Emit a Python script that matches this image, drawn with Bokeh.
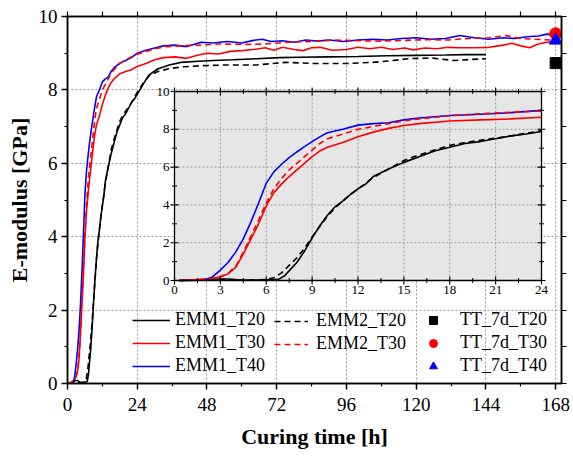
import numpy as np
from bokeh.plotting import figure
from bokeh.models import Range1d, LinearAxis, FixedTicker, Legend, LegendItem
from bokeh.core.properties import value
from bokeh.embed import file_html
from bokeh.resources import INLINE

# ---------------- data ----------------
t_emm1_t20 = [0.3, 1, 2, 2.5, 3, 3.5, 4, 4.5, 5, 5.5, 6, 6.5, 6.8, 7.2, 7.6, 8, 8.5, 9, 9.5, 10,
              10.5, 11, 11.5, 12, 12.5, 13, 13.5, 14, 15, 16, 17, 18, 19, 20, 21, 22, 23, 24,
              26, 28, 31, 35, 39, 45, 50, 57, 65, 73, 80, 90, 100, 110, 120, 130, 137, 144]
e_emm1_t20 = [0.0, 0.02, 0.05, 0.07, 0.08, 0.08, 0.05, 0.03, 0.02, 0.03, 0.04, 0.05, 0.06, 0.25,
              0.6, 0.95, 1.55, 2.25, 2.9, 3.45, 3.9, 4.2, 4.55, 4.85, 5.1, 5.5, 5.7, 5.9, 6.25,
              6.55, 6.85, 7.05, 7.25, 7.35, 7.5, 7.65, 7.75, 7.88, 8.15, 8.4, 8.57, 8.68, 8.75,
              8.78, 8.8, 8.82, 8.85, 8.88, 8.89, 8.9, 8.91, 8.93, 8.94, 8.95, 8.96, 8.96]

t_emm2_t20 = [0.3, 1, 2, 3, 4, 5, 6, 6.5, 7, 7.5, 8, 8.5, 9, 9.5, 10, 10.5, 11, 11.5, 12, 13, 14,
              15, 16, 17, 18, 19, 20, 22, 24, 26, 28, 31, 35, 40, 46, 55, 65, 75, 85, 96, 105,
              112, 117, 125, 133, 139, 144]
e_emm2_t20 = [0.0, 0.02, 0.04, 0.05, 0.03, 0.02, 0.05, 0.15, 0.4, 0.8, 1.2, 1.7, 2.3, 2.85, 3.4,
              3.85, 4.2, 4.55, 4.85, 5.45, 5.9, 6.35, 6.65, 6.9, 7.15, 7.3, 7.42, 7.65, 7.93,
              8.18, 8.38, 8.5, 8.58, 8.63, 8.66, 8.68, 8.68, 8.75, 8.72, 8.72, 8.75, 8.8, 8.85,
              8.87, 8.8, 8.83, 8.85]

t_emm1_t30 = [0.3, 1, 2, 2.5, 3, 3.5, 4, 4.5, 5, 5.5, 6, 6.5, 7, 7.5, 8, 8.5, 9, 9.5, 10, 11, 12,
              13, 14, 15, 16, 18, 20, 22, 24, 27, 30, 33, 37, 41, 45, 48, 52, 56, 60, 64, 68, 71,
              74, 78, 81, 84, 87, 91, 96, 100, 104, 108, 112, 116, 119, 123, 127, 131, 135, 140,
              145, 150, 153, 156, 159, 162, 165, 167]
e_emm1_t30 = [0.0, 0.02, 0.08, 0.12, 0.2, 0.35, 0.7, 1.4, 2.2, 3.0, 3.95, 4.65, 5.1, 5.5, 5.85,
              6.2, 6.55, 6.85, 7.05, 7.3, 7.6, 7.85, 8.05, 8.2, 8.3, 8.44, 8.5, 8.55, 8.64, 8.72,
              8.82, 8.88, 8.9, 8.86, 8.95, 9.0, 8.98, 9.05, 9.07, 9.1, 9.15, 9.08, 9.16, 9.1,
              9.07, 9.15, 9.16, 9.08, 9.1, 9.16, 9.12, 9.16, 9.1, 9.14, 9.09, 9.14, 9.12, 9.16,
              9.15, 9.15, 9.16, 9.22, 9.27, 9.2, 9.15, 9.25, 9.3, 9.32]

t_emm2_t30 = [0.3, 1, 2, 2.5, 3, 3.5, 4, 4.5, 5, 5.5, 6, 6.5, 7, 7.5, 8, 8.5, 9, 9.5, 10, 11, 12,
              13, 14, 15, 16, 18, 20, 22, 24, 27, 30, 34, 39, 45, 52, 60, 68, 76, 84, 92, 100,
              108, 116, 124, 131, 138, 145, 151, 156, 161, 166, 167]
e_emm2_t30 = [0.0, 0.02, 0.08, 0.12, 0.2, 0.38, 0.75, 1.5, 2.35, 3.2, 4.1, 4.85, 5.4, 5.85, 6.2,
              6.55, 6.9, 7.25, 7.5, 7.75, 8.0, 8.15, 8.3, 8.45, 8.55, 8.72, 8.82, 8.9, 8.97,
              9.05, 9.12, 9.18, 9.2, 9.22, 9.25, 9.24, 9.25, 9.3, 9.32, 9.36, 9.34, 9.33, 9.35,
              9.37, 9.36, 9.4, 9.42, 9.48, 9.4, 9.38, 9.36, 9.36]

t_emm1_t40 = [0.3, 1, 2, 2.5, 3, 3.5, 4, 4.5, 5, 5.5, 6, 6.5, 7, 7.5, 8, 8.5, 9, 9.5, 10, 11, 12,
              13, 14, 15, 16, 18, 20, 22, 24, 27, 30, 33, 37, 41, 46, 50, 55, 60, 64, 67, 70, 74,
              78, 82, 86, 90, 95, 100, 105, 110, 115, 120, 125, 130, 135, 140, 145, 150, 154, 158,
              162, 165, 167]
e_emm1_t40 = [0.0, 0.0, 0.03, 0.2, 0.55, 0.95, 1.5, 2.2, 3.1, 4.1, 5.15, 5.75, 6.15, 6.5, 6.8,
              7.08, 7.35, 7.6, 7.82, 8.0, 8.22, 8.3, 8.35, 8.5, 8.6, 8.73, 8.8, 8.88, 9.0, 9.08,
              9.14, 9.2, 9.22, 9.18, 9.3, 9.28, 9.32, 9.28, 9.35, 9.38, 9.32, 9.34, 9.3, 9.36,
              9.33, 9.36, 9.32, 9.36, 9.38, 9.36, 9.4, 9.42, 9.38, 9.4, 9.48, 9.42, 9.38, 9.42,
              9.4, 9.45, 9.47, 9.52, 9.5]

tt_time = [168, 168, 168]
tt_e = [8.73, 9.53, 9.35]
tt_labels = ["TT_7d_T20", "TT_7d_T30", "TT_7d_T40"]

main_x_ticks = [0, 24, 48, 72, 96, 120, 144, 168]
main_x_minor = [12, 36, 60, 84, 108, 132, 156]
main_y_ticks = [0, 2, 4, 6, 8, 10]
main_y_minor = [1, 3, 5, 7, 9]
inset_x_ticks = [0, 3, 6, 9, 12, 15, 18, 21, 24]
inset_x_minor = [1.5, 4.5, 7.5, 10.5, 13.5, 16.5, 19.5, 22.5]
inset_y_ticks = [0, 2, 4, 6, 8, 10]
inset_y_minor = [1, 3, 5, 7, 9]

# ---------------- layout constants (pixels) ----------------
W, H = 573, 457
FL, FR, FT, FB = 67, 561, 16, 383          # main frame
IL, IR, IT, IB = 174, 541, 91, 280         # inset frame
X_MAIN = (0, 170)
Y_MAIN = (0, 10)
X_IN = (0, 24)
Y_IN = (0, 10)

FONT = "Liberation Serif"
GRID = "#9a9a9a"

sx = (X_IN[1] - X_IN[0]) / (IR - IL)
sy = (Y_IN[1] - Y_IN[0]) / (IB - IT)
ix_range = Range1d(X_IN[0] - (IL - FL) * sx, X_IN[1] + (FR - IR) * sx)
iy_range = Range1d(Y_IN[0] - (FB - IB) * sy, Y_IN[1] + (IT - FT) * sy)

p = figure(width=W, height=H, x_range=Range1d(*X_MAIN), y_range=Range1d(*Y_MAIN),
           output_backend="svg", toolbar_location=None, title=None,
           min_border_left=FL, min_border_right=W - FR, min_border_top=FT,
           min_border_bottom=H - FB)
p.extra_x_ranges = {"ix": ix_range}
p.extra_y_ranges = {"iy": iy_range}
p.background_fill_color = "white"
p.border_fill_color = "white"
p.outline_line_color = "black"
p.outline_line_width = 1.5

xt = FixedTicker(ticks=main_x_ticks, minor_ticks=main_x_minor)
yt = FixedTicker(ticks=main_y_ticks, minor_ticks=main_y_minor)
# mirror axes: tick marks only (all as minor ticks, so no labels are drawn)
top_ax = LinearAxis(ticker=FixedTicker(ticks=[], minor_ticks=sorted(main_x_ticks + main_x_minor)))
right_ax = LinearAxis(ticker=FixedTicker(ticks=[], minor_ticks=sorted(main_y_ticks + main_y_minor)))
p.add_layout(top_ax, "above")
p.add_layout(right_ax, "right")

for ax in p.xaxis + p.yaxis:
    ax.axis_line_width = 1.5
    ax.axis_line_color = "black"
    ax.major_tick_line_width = 1.5
    ax.minor_tick_line_width = 1.2
    ax.major_tick_out = 6
    ax.major_tick_in = 0
    ax.minor_tick_out = 3
    ax.minor_tick_in = 0
    ax.major_label_text_font = FONT
    ax.major_label_text_font_size = "19px"
    ax.major_label_text_color = "black"
    ax.axis_label_text_font = FONT
    ax.axis_label_text_font_size = "22px"
    ax.axis_label_text_font_style = "bold"
    ax.axis_label_text_color = "black"

top_ax.minor_tick_out = 5
right_ax.minor_tick_out = 5
top_ax.major_label_standoff = 0
right_ax.major_label_standoff = 0

bottom_ax = p.below[0]
left_ax = p.left[0]
bottom_ax.ticker = xt
left_ax.ticker = yt
bottom_ax.axis_label = "Curing time [h]"
left_ax.axis_label = "E-modulus [GPa]"
bottom_ax.major_label_standoff = 8
bottom_ax.axis_label_standoff = 10
left_ax.major_label_standoff = 4
left_ax.axis_label_standoff = 4

p.xgrid.ticker = FixedTicker(ticks=main_x_ticks)
p.ygrid.ticker = FixedTicker(ticks=main_y_ticks)
for g in [p.xgrid, p.ygrid]:
    g.grid_line_color = GRID
    g.grid_line_dash = "2 2"
    g.grid_line_width = 1

# ---------------- main curves ----------------
LW = 1.6
series = [
    ("EMM1_T20", t_emm1_t20, e_emm1_t20, "black", "solid"),
    ("EMM1_T30", t_emm1_t30, e_emm1_t30, "red", "solid"),
    ("EMM1_T40", t_emm1_t40, e_emm1_t40, "blue", "solid"),
    ("EMM2_T20", t_emm2_t20, e_emm2_t20, "black", "6 4"),
    ("EMM2_T30", t_emm2_t30, e_emm2_t30, "red", "6 4"),
]
rend = {}
for name, t, e, c, d in series:
    rend[name] = p.line(t, e, line_color=c, line_width=LW, line_dash=d)

markers = [("square", "black", 11), ("circle", "red", 12), ("triangle", "blue", 13)]
tt_r = []
for i, (m, c, s) in enumerate(markers):
    tt_r.append(p.scatter([tt_time[i]], [tt_e[i]], marker=m, size=s,
                          fill_color=c, line_color=c))

# ---------------- inset ----------------
kw = dict(x_range_name="ix", y_range_name="iy")
p.quad(left=[X_IN[0]], right=[X_IN[1]], bottom=[Y_IN[0]], top=[Y_IN[1]],
       fill_color="#e6e6e6", line_color=None, **kw)
gx = inset_x_ticks[1:-1]
gy = inset_y_ticks[1:-1]
p.segment(x0=gx, x1=gx, y0=[Y_IN[0]] * len(gx), y1=[Y_IN[1]] * len(gx),
          line_color=GRID, line_dash="2 2", line_width=1, **kw)
p.segment(x0=[X_IN[0]] * len(gy), x1=[X_IN[1]] * len(gy), y0=gy, y1=gy,
          line_color=GRID, line_dash="2 2", line_width=1, **kw)

for name, t, e, c, d in series:
    ta = np.array(t, dtype=float)
    ea = np.array(e, dtype=float)
    m = ta <= X_IN[1]
    p.line(ta[m], ea[m], line_color=c, line_width=LW, line_dash=d, **kw)

p.quad(left=[X_IN[0]], right=[X_IN[1]], bottom=[Y_IN[0]], top=[Y_IN[1]],
       fill_color=None, line_color="black", line_width=1.3, **kw)

# ticks (crossing marks)
for yy in Y_IN:
    p.scatter(inset_x_ticks, [yy] * len(inset_x_ticks), marker="dash", angle=np.pi / 2,
              size=8, line_color="black", line_width=1.1, **kw)
    p.scatter(inset_x_minor, [yy] * len(inset_x_minor), marker="dash", angle=np.pi / 2,
              size=5, line_color="black", line_width=1.0, **kw)
for xx in X_IN:
    p.scatter([xx] * len(inset_y_ticks), inset_y_ticks, marker="dash",
              size=8, line_color="black", line_width=1.1, **kw)
    p.scatter([xx] * len(inset_y_minor), inset_y_minor, marker="dash",
              size=5, line_color="black", line_width=1.0, **kw)

p.text(x=inset_x_ticks, y=[Y_IN[0]] * len(inset_x_ticks), text=[str(v) for v in inset_x_ticks],
       text_align="center", text_baseline="top", y_offset=5,
       text_font=value(FONT), text_font_size=value("13px"), text_color="black", **kw)
p.text(x=[X_IN[0]] * len(inset_y_ticks), y=inset_y_ticks, text=[str(v) for v in inset_y_ticks],
       text_align="right", text_baseline="middle", x_offset=-5,
       text_font=value(FONT), text_font_size=value("13px"), text_color="black", **kw)

# ---------------- legends ----------------
def make_legend(items, loc, gw, standoff):
    lg = Legend(items=items, location=loc, orientation="vertical",
                glyph_width=gw, glyph_height=20, label_height=20, label_standoff=standoff,
                spacing=2, padding=0, margin=0,
                border_line_alpha=0, background_fill_alpha=0,
                label_text_font=FONT, label_text_font_size="18px", label_text_color="black")
    p.add_layout(lg, "center")
    return lg

make_legend([LegendItem(label=n, renderers=[rend[n]]) for n in ["EMM1_T20", "EMM1_T30", "EMM1_T40"]],
            (132 - FL, FB - 376), 38, 5)
make_legend([LegendItem(label=n, renderers=[rend[n]]) for n in ["EMM2_T20", "EMM2_T30"]],
            (274 - FL, FB - 354), 34, 8)
make_legend([LegendItem(label=tt_labels[i], renderers=[tt_r[i]]) for i in range(3)],
            (423 - FL, FB - 376), 20, 17)

open("out.html", "w").write(file_html(p, INLINE))
